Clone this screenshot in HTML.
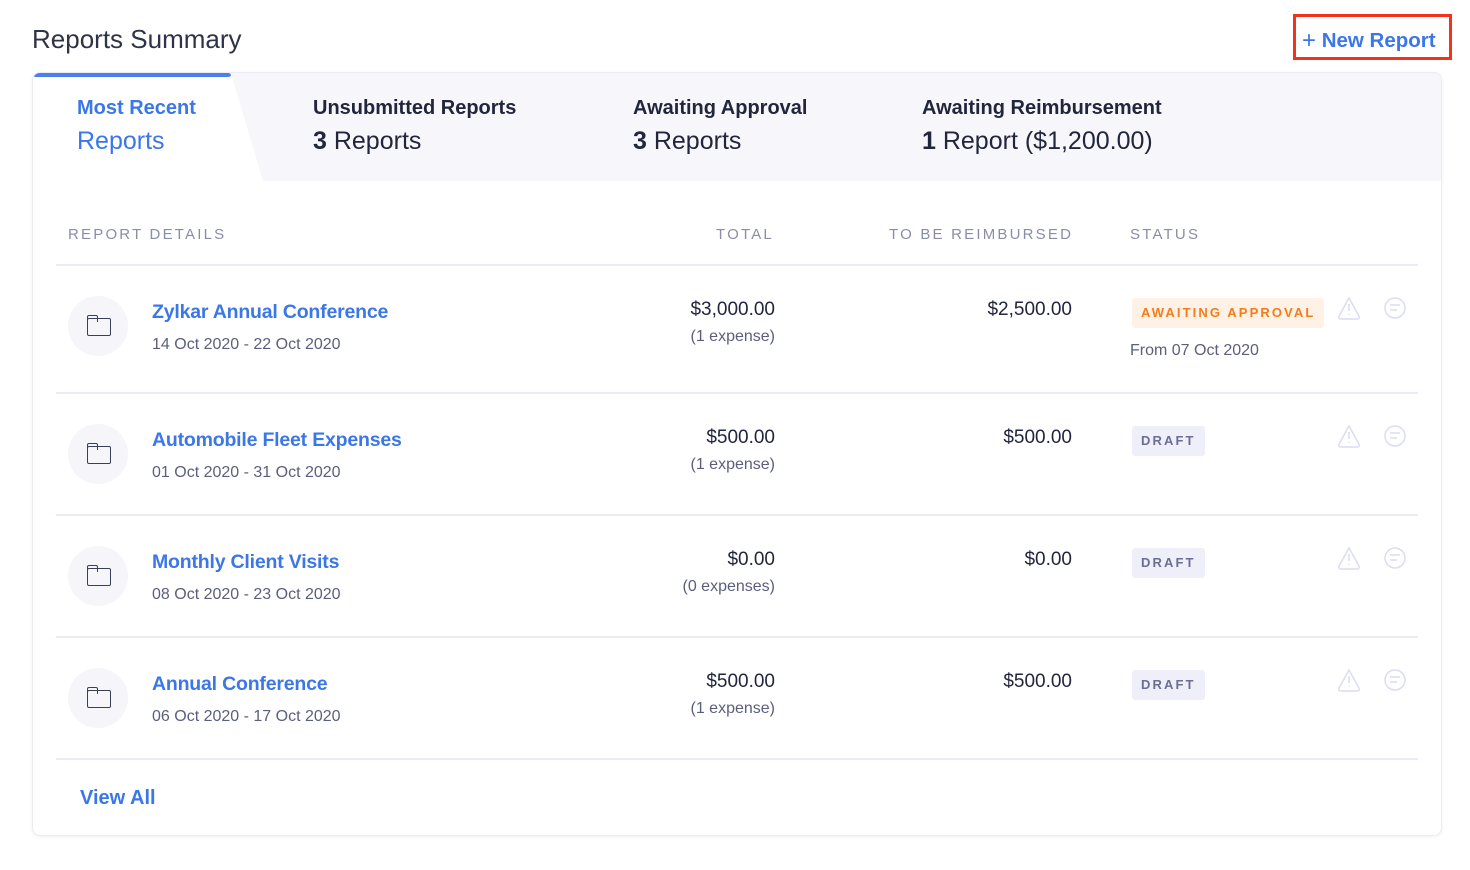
<!DOCTYPE html>
<html><head><meta charset="utf-8"><style>
*{margin:0;padding:0;box-sizing:border-box}
body{width:1470px;height:870px;background:#fff;font-family:"Liberation Sans",sans-serif;position:relative;overflow:hidden;color:#21263c}
.a{position:absolute;white-space:nowrap}
.card{position:absolute;left:32px;top:72px;width:1410px;height:764px;border:1px solid #ebebf2;border-radius:8px;box-shadow:0 1px 4px rgba(0,0,0,.06);overflow:hidden}
.hl{position:absolute;left:56px;width:1362px;height:2px;background:#ebebf5}
.t{font-size:19.5px;font-weight:bold;color:#3b77e8;letter-spacing:-0.2px}
.d{font-size:16px;color:#5a5f7d}
.amt{font-size:19px;color:#21263c;text-align:right}
.sm{font-size:16px;color:#5a5f7d;text-align:right}
.ic{position:absolute;left:68px;width:60px;height:60px;border-radius:50%;background:#f5f5fa}
.ic:after{content:"";position:absolute;left:19px;top:22px;width:22px;height:16px;border:1.6px solid #3a3f58;border-radius:2px}
.ic:before{content:"";position:absolute;left:19px;top:19px;width:9px;height:6px;border:1.6px solid #3a3f58;border-bottom:none;border-radius:2px 2px 0 0}
.badge{position:absolute;left:1132px;height:30px;line-height:30px;padding:0 9px;font-size:13px;font-weight:bold;letter-spacing:2.1px;border-radius:3px}
.dr{background:#efeff9;color:#6b6f94}
.th{font-size:15px;letter-spacing:2.2px;color:#8a8da6}
</style></head><body>
<div class="a" style="left:32px;top:24px;font-size:26px;color:#2f3348">Reports Summary</div>
<div class="a" style="left:1293px;top:14px;width:159px;height:46px;border:3px solid #f4321c"></div>
<div class="a" style="left:1302px;top:26px;font-size:20.5px;font-weight:bold;color:#3b77e8"><span style="font-weight:normal;font-size:24px;position:relative;top:1px">+</span> New Report</div>
<div class="card">
<svg class="a" style="left:0;top:0" width="1410" height="108"><rect width="1410" height="108" fill="#f7f7fb"/><path d="M0 0H198L230 108H0Z" fill="#fff"/><rect x="0" y="0" width="198" height="4" rx="3" fill="#4a7fee"/></svg>
</div>
<div class="a" style="left:77px;top:97px;font-size:20px;font-weight:bold;color:#3b77e8">Most Recent</div>
<div class="a" style="left:77px;top:127px;font-size:25px;color:#3b77e8">Reports</div>
<div class="a" style="left:313px;top:97px;font-size:20px;font-weight:bold">Unsubmitted Reports</div>
<div class="a" style="left:313px;top:127px;font-size:25px"><b>3</b> Reports</div>
<div class="a" style="left:633px;top:97px;font-size:20px;font-weight:bold">Awaiting Approval</div>
<div class="a" style="left:633px;top:127px;font-size:25px"><b>3</b> Reports</div>
<div class="a" style="left:922px;top:97px;font-size:20px;font-weight:bold">Awaiting Reimbursement</div>
<div class="a" style="left:922px;top:127px;font-size:25px"><b>1</b> Report ($1,200.00)</div>

<div class="a th" style="left:68px;top:226px">REPORT DETAILS</div>
<div class="a th" style="left:716px;top:226px">TOTAL</div>
<div class="a th" style="left:889px;top:226px">TO BE REIMBURSED</div>
<div class="a th" style="left:1130px;top:226px">STATUS</div>
<div class="hl" style="top:264px"></div>

<div class="ic" style="top:296px"></div>
<div class="a t" style="left:152px;top:301px">Zylkar Annual Conference</div>
<div class="a d" style="left:152px;top:336px">14 Oct 2020 - 22 Oct 2020</div>
<div class="a amt" style="right:695px;top:299px">$3,000.00</div>
<div class="a sm" style="right:695px;top:328px">(1 expense)</div>
<div class="a amt" style="right:398px;top:299px">$2,500.00</div>
<div class="badge" style="top:298px;background:#fff1e6;color:#f57c17">AWAITING APPROVAL</div>
<div class="a d" style="left:1130px;top:342px">From 07 Oct 2020</div>
<div class="hl" style="top:392px"></div>

<div class="ic" style="top:424px"></div>
<div class="a t" style="left:152px;top:429px">Automobile Fleet Expenses</div>
<div class="a d" style="left:152px;top:464px">01 Oct 2020 - 31 Oct 2020</div>
<div class="a amt" style="right:695px;top:427px">$500.00</div>
<div class="a sm" style="right:695px;top:456px">(1 expense)</div>
<div class="a amt" style="right:398px;top:427px">$500.00</div>
<div class="badge dr" style="top:426px">DRAFT</div>
<div class="hl" style="top:514px"></div>

<div class="ic" style="top:546px"></div>
<div class="a t" style="left:152px;top:551px">Monthly Client Visits</div>
<div class="a d" style="left:152px;top:586px">08 Oct 2020 - 23 Oct 2020</div>
<div class="a amt" style="right:695px;top:549px">$0.00</div>
<div class="a sm" style="right:695px;top:578px">(0 expenses)</div>
<div class="a amt" style="right:398px;top:549px">$0.00</div>
<div class="badge dr" style="top:548px">DRAFT</div>
<div class="hl" style="top:636px"></div>

<div class="ic" style="top:668px"></div>
<div class="a t" style="left:152px;top:673px">Annual Conference</div>
<div class="a d" style="left:152px;top:708px">06 Oct 2020 - 17 Oct 2020</div>
<div class="a amt" style="right:695px;top:671px">$500.00</div>
<div class="a sm" style="right:695px;top:700px">(1 expense)</div>
<div class="a amt" style="right:398px;top:671px">$500.00</div>
<div class="badge dr" style="top:670px">DRAFT</div>
<div class="hl" style="top:758px"></div>

<svg class="a" style="left:0;top:0" width="1470" height="870" fill="none" stroke="#dcdcf2" stroke-width="1.5">
<g id="i"><path d="M1349 298 L1359 316 Q1360 319 1357 319 H1341 Q1338 319 1339 316 Z"/><path d="M1349 304v7M1349 314v1"/><circle cx="1395" cy="308" r="10"/><path d="M1390 305h10M1390 310h7"/></g>
<use href="#i" y="128"/><use href="#i" y="250"/><use href="#i" y="372"/>
</svg>
<div class="a" style="left:80px;top:787px;font-size:20px;font-weight:bold;color:#3b77e8">View All</div>
</body></html>
